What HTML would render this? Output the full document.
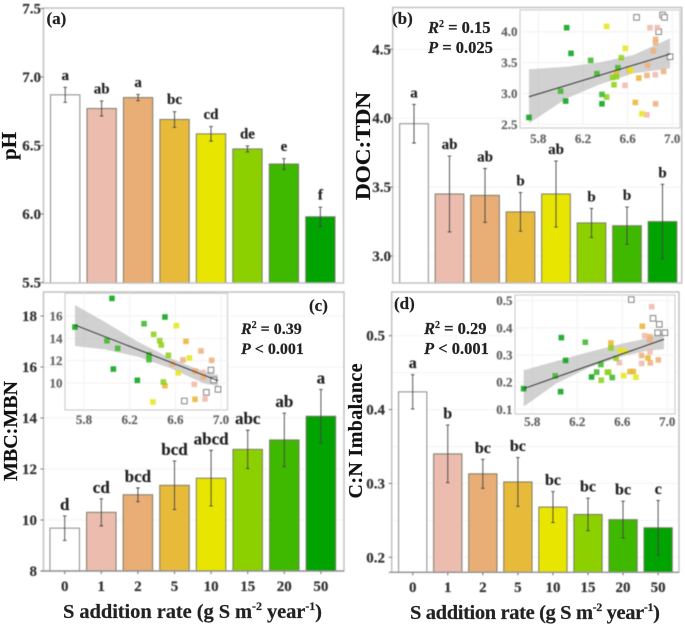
<!DOCTYPE html>
<html>
<head>
<meta charset="utf-8">
<title>Soil responses to S addition</title>
<style>
html,body{margin:0;padding:0;background:#fff;}
svg{display:block;}
text{font-family:"Liberation Serif",serif;font-weight:bold;stroke:currentColor;stroke-width:0.2px;}
</style>
</head>
<body>
<svg id="chart" xmlns="http://www.w3.org/2000/svg" width="685" height="626" viewBox="0 0 685 626">
  <rect width="685" height="626" fill="#fff"/>
  <g id="root" style="filter:blur(0.4px)"></g>
  <g style="filter:blur(0.35px);color:#222">
    <text transform="translate(16,146) rotate(-90)" text-anchor="middle" font-size="21" fill="#111">pH</text>
    <text transform="translate(370,146) rotate(-90)" text-anchor="middle" font-size="21" fill="#111" textLength="108" lengthAdjust="spacingAndGlyphs">DOC:TDN</text>
    <text transform="translate(17,431) rotate(-90)" text-anchor="middle" font-size="20" fill="#111">MBC:MBN</text>
    <text transform="translate(362,431) rotate(-90)" text-anchor="middle" font-size="20" fill="#111" textLength="135" lengthAdjust="spacing">C:N Imbalance</text>

    <text x="46.5" y="24" font-size="17" fill="#222">(a)</text>
    <text x="392" y="24" font-size="17" fill="#222">(b)</text>
    <text x="309" y="311" font-size="17" fill="#222">(c)</text>
    <text x="394" y="309" font-size="17" fill="#222">(d)</text>

    <text x="428" y="33" font-size="16.5" fill="#222"><tspan font-style="italic">R</tspan><tspan font-size="10" dy="-6">2</tspan><tspan dy="6"> = 0.15</tspan></text>
    <text x="428" y="53" font-size="16.5" fill="#222"><tspan font-style="italic">P</tspan> = 0.025</text>
    <text x="241" y="334" font-size="16" fill="#222"><tspan font-style="italic">R</tspan><tspan font-size="10" dy="-6">2</tspan><tspan dy="6"> = 0.39</tspan></text>
    <text x="241" y="354" font-size="16" fill="#222"><tspan font-style="italic">P</tspan> &lt; 0.001</text>
    <text x="424" y="334" font-size="16.5" fill="#222"><tspan font-style="italic">R</tspan><tspan font-size="10" dy="-6">2</tspan><tspan dy="6"> = 0.29</tspan></text>
    <text x="424" y="354" font-size="16.5" fill="#222"><tspan font-style="italic">P</tspan> &lt; 0.001</text>

    <text x="63" y="618" font-size="20.5" fill="#222" textLength="259" lengthAdjust="spacing">S addition rate (g S m<tspan font-size="12" dy="-8">-2</tspan><tspan dy="8"> year</tspan><tspan font-size="12" dy="-8">-1</tspan><tspan dy="8">)</tspan></text>
    <text x="410" y="619" font-size="20.5" fill="#222" textLength="250" lengthAdjust="spacing">S addition rate (g S m<tspan font-size="12" dy="-8">-2</tspan><tspan dy="8"> year</tspan><tspan font-size="12" dy="-8">-1</tspan><tspan dy="8">)</tspan></text>
  </g>
</svg>
<script>
// Shared categories
const categories = ['0','1','2','5','10','15','20','50'];

// Panel (a) pH
const phValues  = [6.87,6.77,6.85,6.69,6.585,6.475,6.365,5.98];
const phErrors  = [0.055,0.055,0.023,0.057,0.053,0.022,0.04,0.07];
const phLetters = ['a','ab','a','bc','cd','de','e','f'];
const phTicks   = ['5.5','6.0','6.5','7.0','7.5'];

// Panel (b) DOC:TDN
const docValues  = [3.96,3.45,3.44,3.32,3.45,3.24,3.22,3.25];
const docErrors  = [0.14,0.275,0.195,0.14,0.24,0.105,0.135,0.27];
const docLetters = ['a','ab','ab','b','ab','b','b','b'];
const docTicks   = ['3.0','3.5','4.0','4.5'];

// Panel (c) MBC:MBN
const mbcValues  = [9.68,10.3,10.99,11.36,11.64,12.77,13.14,14.07];
const mbcErrors  = [0.48,0.53,0.27,0.95,1.09,0.75,1.05,1.05];
const mbcLetters = ['d','cd','bcd','bcd','abcd','abc','ab','a'];
const mbcTicks   = ['8','10','12','14','16','18'];

// Panel (d) C:N imbalance
const cnValues  = [0.424,0.34,0.313,0.302,0.268,0.258,0.251,0.24];
const cnErrors  = [0.0232,0.039,0.0196,0.033,0.021,0.022,0.025,0.037];
const cnLetters = ['a','b','bc','bc','bc','bc','bc','c'];
const cnTicks   = ['0.2','0.3','0.4','0.5'];

// Inset x-axis ticks
const insetXTicks = ['5.8','6.2','6.6','7.0'];

// Inset (b)
const bInsetYTicks = ['2.5','3.0','3.5','4.0'];
const bScatterGroup = [0,0,0,0,0, 1,1,1,1,1, 2,2,2,2,2,2,2, 3,3,3,3, 4,4,4,4, 5,5,5,5,5, 6,6,6,6,6, 7,7,7,7,7];
const bScatterPh = [6.68,6.913,6.93,6.878,6.98, 6.8,6.866,6.848,6.576,6.773, 6.85,6.85,6.83,6.779,6.773,6.922,6.85, 6.669,6.7,6.615,6.5, 6.412,6.579,6.728,6.627, 6.543,6.466,6.478,6.412,6.5, 6.269,6.325,6.0,6.37,6.513, 5.716,6.054,6.093,6.045,6.37];
const bScatterVal = [4.232,4.27,4.232,4.0,3.595, 4.065,4.065,3.303,3.13,2.654, 3.876,3.822,3.692,3.454,3.292,3.357,2.832, 2.854,3.249,3.373,3.324, 4.086,3.73,2.67,3.373, 3.578,3.259,3.141,2.941,3.27, 3.535,3.319,3.038,2.984,3.416, 2.611,4.065,3.649,2.876,2.832];
const bFitPh = [5.716,6.98];
const bFitVal = [2.946,3.638];
const bBandPh = [5.716,6.054,6.352,6.651,6.98];
const bBandUpper = [3.389,3.432,3.503,3.622,3.892];
const bBandLower = [2.514,2.919,3.146,3.324,3.405];

// Inset (c)
const cInsetYTicks = ['10','12','14','16'];
const cScatterGroup = [0,0,0,0,0, 1,1,1,1, 2,2,2,2,2,2, 3,3,3, 4,4,4,4, 5,5,5,5,5, 6,6,6,6,6, 7,7,7,7,7];
const cScatterPh = [6.679,6.872,6.974,6.912,6.936, 6.766,6.86,6.784,6.845, 6.918,6.825,6.667,6.845,6.772,6.574, 6.693,6.772,6.509, 6.609,6.723,6.626,6.404, 6.41,6.463,6.477,6.539,6.495, 6.326,6.001,6.095,6.369,6.369, 5.721,6.045,6.509,6.057,6.267];
const cScatterVal = [8.39,9.16,9.43,11.16,10.27, 9.88,8.57,11.01,10.93, 12.03,12.87,12.06,10.51,11.07,11.7, 13.73,8.54,9.76, 15.13,12.24,10.9,8.3, 14.36,13.79,13.4,12.48,10.09, 15.31,13.79,13.1,12.51,12.09, 15.01,17.58,15.91,11.25,10.24];
const cFitPh = [5.721,6.974];
const cFitVal = [15.19,10.21];
const cBandPh = [5.721,5.98,6.27,6.56,6.85,6.974];
const cBandUpper = [16.99,15.49,13.7,12.21,11.01,10.72];
const cBandLower = [13.31,13.01,12.36,11.31,9.97,9.73];

// Inset (d)
const dInsetYTicks = ['0.1','0.2','0.3','0.4','0.5'];
const dScatterGroup = [0,0,0,0,0, 1,1,1,1,1, 2,2,2,2,2, 3,3,3,3,3, 4,4,4,4, 5,5,5,5,5, 6,6,6,6,6, 7,7,7,7,7];
const dScatterPh = [6.68,6.873,6.929,6.914,6.979, 6.861,6.799,6.846,6.772,6.573, 6.846,6.846,6.772,6.849,6.92, 6.778,6.499,6.668,6.698,6.828, 6.579,6.624,6.612,6.721, 6.499,6.544,6.413,6.467,6.479, 6.271,6.004,6.372,6.41,6.511, 5.723,6.058,6.096,6.052,6.327];
const dScatterVal = [0.504,0.435,0.413,0.382,0.382, 0.478,0.371,0.312,0.269,0.272, 0.367,0.355,0.298,0.271,0.282, 0.406,0.344,0.239,0.239,0.289, 0.317,0.313,0.224,0.218, 0.326,0.288,0.207,0.237,0.236, 0.347,0.223,0.237,0.265,0.217, 0.176,0.364,0.28,0.165,0.219];
const dFitPh = [5.723,6.97];
const dFitVal = [0.176,0.358];
const dBandPh = [5.723,6.016,6.312,6.609,6.816,6.97];
const dBandUpper = [0.244,0.278,0.312,0.343,0.361,0.386];
const dBandLower = [0.11,0.196,0.255,0.296,0.315,0.321];

// Series colours
const groupColors = ['#ffffff','#ecbcae','#e9ad76','#e8ba3a','#e8e600','#8cd000','#3fb800','#00a300'];
const scatterColors = ['#ffffff','#f0b9ac','#edb27c','#ebb637','#e6e61e','#8fd21c','#3fb82a','#0ba41a'];

const SVGNS = 'http://www.w3.org/2000/svg';
const root = document.getElementById('root');

function linear(d0, d1, r0, r1) {
  return function (v) { return r0 + (v - d0) * (r1 - r0) / (d1 - d0); };
}

function make(parent, tag, attrs) {
  const el = document.createElementNS(SVGNS, tag);
  for (const k in attrs) { el.setAttribute(k, attrs[k]); }
  parent.appendChild(el);
  return el;
}

function drawBarPanel(id, L, values, errors, letters, ticks, minorTicks) {
  const y = linear(L.d0, L.d1, L.py0, L.py1);
  const x = function (i) { return L.cx + L.step * i; };
  const g = make(root, 'g', {});
  
  
  g.style.color = '#333';

  minorTicks.forEach(function (t) {
    const ln = make(g, 'line', {x1: L.left, x2: L.right, y1: y(t), y2: y(t), stroke: '#f3f3f3', 'stroke-width': 1});
    
    
  });

  values.forEach(function (v, i) {
    const bar = make(g, 'rect', {
      x: x(i) - L.w / 2, y: y(v), width: L.w, height: L.bottom - y(v),
      fill: groupColors[i], stroke: i === 0 ? '#8a8a8a' : '#7b7b6a', 'stroke-width': 1
    });
    
    

    const top = y(v + errors[i]);
    const bot = y(v - errors[i]);
    const eb = make(g, 'path', {
      d: 'M' + (x(i) - 1.8) + ' ' + top + 'H' + (x(i) + 1.8) + 'M' + x(i) + ' ' + top + 'V' + bot + 'M' + (x(i) - 1.8) + ' ' + bot + 'H' + (x(i) + 1.8),
      fill: 'none', stroke: '#444', 'stroke-width': 0.9
    });
    
    

    const lab = make(g, 'text', {x: x(i), y: top - L.letterGap, 'text-anchor': 'middle', 'font-size': L.letterSize, fill: '#222'});
    lab.textContent = letters[i];
    
    

    if (L.showX) {
      const tk = make(g, 'line', {x1: x(i), x2: x(i), y1: L.bottom, y2: L.bottom + 3, stroke: '#666', 'stroke-width': 1});
      
      
      const tl = make(g, 'text', {x: x(i), y: L.xLabelY, 'text-anchor': 'middle', 'font-size': 15, fill: '#333'});
      tl.textContent = categories[i];
      
      
    }
  });

  const frame = make(g, 'rect', {x: L.left, y: L.top, width: L.right - L.left, height: L.bottom - L.top, fill: 'none', stroke: '#bfbfbf', 'stroke-width': 1.4});
  
  

  if (L.showX) {
    const axis = make(g, 'line', {x1: L.left - 3, x2: L.right, y1: L.bottom, y2: L.bottom, stroke: '#888', 'stroke-width': 1.2});
    
    
  }

  ticks.forEach(function (t) {
    const v = parseFloat(t);
    const tk = make(g, 'line', {x1: L.left - 3, x2: L.left, y1: y(v), y2: y(v), stroke: '#777', 'stroke-width': 1});
    
    
    const tl = make(g, 'text', {x: L.labelRight, y: y(v) + 5, 'text-anchor': 'end', 'font-size': 15, fill: '#333'});
    tl.textContent = t;
    
    
  });
}

function drawInset(id, L, yTicks, groups, phs, vals, fitX, fitY, bandX, bandU, bandL) {
  const x = linear(L.xd0, L.xd1, L.xr0, L.xr1);
  const y = linear(L.yd0, L.yd1, L.yr0, L.yr1);
  const g = make(root, 'g', {});
  
  
  g.style.color = '#666';

  const bg = make(g, 'rect', {x: L.left, y: L.top, width: L.right - L.left, height: L.bottom - L.top, fill: '#fff', stroke: '#cfcfcf', 'stroke-width': 1.2});
  
  

  insetXTicks.forEach(function (t) {
    const px = x(parseFloat(t));
    const ln = make(g, 'line', {x1: px, x2: px, y1: L.top, y2: L.bottom, stroke: '#f2f2f2', 'stroke-width': 1});
    
    
    const tl = make(g, 'text', {x: px, y: L.xLabelY, 'text-anchor': 'middle', 'font-size': 13, fill: '#666'});
    tl.textContent = t;
    
    
  });
  yTicks.forEach(function (t) {
    const py = y(parseFloat(t));
    const ln = make(g, 'line', {x1: L.left, x2: L.right, y1: py, y2: py, stroke: '#f2f2f2', 'stroke-width': 1});
    
    
    const tl = make(g, 'text', {x: L.left - 2.5, y: py + 4.5, 'text-anchor': 'end', 'font-size': 13, fill: '#666'});
    tl.textContent = t;
    
    
  });

  let d = '';
  bandX.forEach(function (v, i) { d += (i ? 'L' : 'M') + x(v) + ' ' + y(bandU[i]); });
  for (let i = bandX.length - 1; i >= 0; i--) { d += 'L' + x(bandX[i]) + ' ' + y(bandL[i]); }
  const band = make(g, 'path', {d: d + 'Z', fill: '#b4b4b4', 'fill-opacity': 0.62});
  
  

  phs.forEach(function (p, i) {
    const grp = groups[i];
    const s = make(g, 'rect', {
      x: x(p) - 2.8, y: y(vals[i]) - 2.8, width: 5.6, height: 5.6,
      fill: scatterColors[grp], 'fill-opacity': grp === 0 ? 1 : 0.88,
      stroke: grp === 0 ? '#777' : 'none', 'stroke-width': 0.9
    });
    
    
  });

  const fit = make(g, 'line', {x1: x(fitX[0]), y1: y(fitY[0]), x2: x(fitX[1]), y2: y(fitY[1]), stroke: '#333', 'stroke-width': 1});
  
  
}

drawBarPanel('a', {left:43.5,right:343.5,top:8,bottom:283,d0:5.5,d1:7.0,py0:282.5,py1:77,cx:65.2,step:36.45,w:29.3,letterGap:7.5,letterSize:15,labelRight:41,showX:false},
  phValues, phErrors, phLetters, phTicks, []);
drawBarPanel('b', {left:392.7,right:681.7,top:7.5,bottom:283,d0:3.0,d1:4.5,py0:256,py1:49.3,cx:414,step:35.5,w:28.7,letterGap:7,letterSize:15,labelRight:391,showX:false},
  docValues, docErrors, docLetters, docTicks, [3.0,3.5,4.0,4.5]);
drawBarPanel('c', {left:43.5,right:344,top:292,bottom:571,d0:8,d1:18,py0:571,py1:316,cx:64.7,step:36.6,w:29.5,letterGap:6,letterSize:17,labelRight:37,showX:true,xLabelY:591},
  mbcValues, mbcErrors, mbcLetters, mbcTicks, [10,12,14,16,18]);
drawBarPanel('d', {left:391.7,right:679,top:292,bottom:572.3,d0:0.2,d1:0.5,py0:557.3,py1:335.7,cx:412.7,step:35.06,w:28.3,letterGap:6.5,letterSize:16,labelRight:385,showX:true,xLabelY:592},
  cnValues, cnErrors, cnLetters, cnTicks, [0.2,0.25,0.3,0.35,0.4,0.45,0.5]);

drawInset('b', {left:520,right:680,top:10,bottom:128,xd0:5.8,xd1:7.0,xr0:538.3,xr1:672.3,yd0:2.5,yd1:4.0,yr0:124.3,yr1:31.7,xLabelY:143},
  bInsetYTicks, bScatterGroup, bScatterPh, bScatterVal, bFitPh, bFitVal, bBandPh, bBandUpper, bBandLower);
drawInset('c', {left:65,right:227.5,top:293.3,bottom:410,xd0:5.8,xd1:7.0,xr0:84,xr1:221,yd0:10,yd1:16,yr0:383,yr1:316,xLabelY:424},
  cInsetYTicks, cScatterGroup, cScatterPh, cScatterVal, cFitPh, cFitVal, cBandPh, cBandUpper, cBandLower);
drawInset('d', {left:515,right:675,top:295,bottom:414,xd0:5.8,xd1:7.0,xr0:532.3,xr1:667.3,yd0:0.1,yd1:0.5,yr0:409.3,yr1:300.7,xLabelY:426},
  dInsetYTicks, dScatterGroup, dScatterPh, dScatterVal, dFitPh, dFitVal, dBandPh, dBandUpper, dBandLower);
</script>
</body>
</html>
